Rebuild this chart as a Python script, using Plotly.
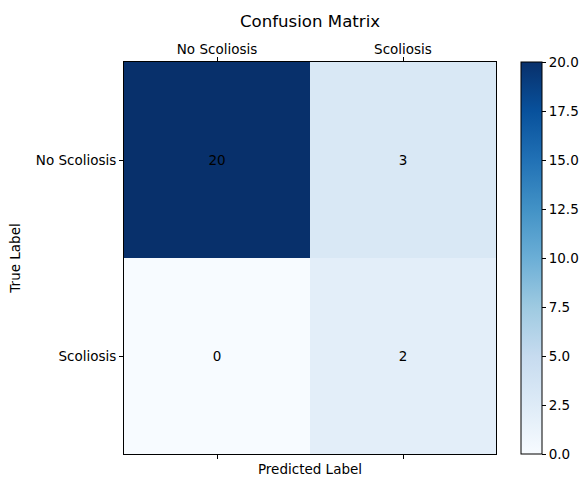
import plotly.graph_objects as go

# Confusion matrix data
class_names = ["No Scoliosis", "Scoliosis"]
counts = [[20, 3],
          [0, 2]]
cbar_ticks = [0.0, 2.5, 5.0, 7.5, 10.0, 12.5, 15.0, 17.5, 20.0]

blues = [
    [0.000, "rgb(247,251,255)"],
    [0.125, "rgb(222,235,247)"],
    [0.250, "rgb(198,219,239)"],
    [0.375, "rgb(158,202,225)"],
    [0.500, "rgb(107,174,214)"],
    [0.625, "rgb(66,146,198)"],
    [0.750, "rgb(33,113,181)"],
    [0.875, "rgb(8,81,156)"],
    [1.000, "rgb(8,48,107)"],
]

FONT = "DejaVu Sans"
FS = 13.5
W, H = 581, 477
L, R, T, B = 124, 496, 62, 454

idx = list(range(len(class_names)))

fig = go.Figure()
fig.add_trace(go.Heatmap(
    z=counts, x=idx, y=idx,
    colorscale=blues, zmin=0, zmax=20,
    text=[[str(v) for v in row] for row in counts],
    texttemplate="%{text}",
    textfont=dict(family=FONT, size=FS, color="black"),
    hoverinfo="skip",
    colorbar=dict(
        x=(521 - L) / (R - L), xanchor="left", xpad=0, ypad=0,
        y=0.5, yanchor="middle", len=1, lenmode="fraction",
        thickness=21, thicknessmode="pixels",
        outlinewidth=1, outlinecolor="black",
        tickvals=cbar_ticks, ticktext=[f"{v:.1f}" for v in cbar_ticks],
        ticks="outside", ticklen=4, tickwidth=1, tickcolor="black",
        tickfont=dict(family=FONT, size=FS, color="black"),
    ),
))
# Invisible trace to anchor the bottom x axis
fig.add_trace(go.Scatter(x=idx, y=idx, xaxis="x2", mode="markers",
                         marker=dict(opacity=0), hoverinfo="skip", showlegend=False))

axis_common = dict(
    showgrid=False, zeroline=False, showline=True, linecolor="black",
    linewidth=1, mirror=True, ticks="outside", ticklen=4, tickwidth=1,
    tickcolor="black", tickfont=dict(family=FONT, size=FS, color="black"),
    automargin=False,
)

fig.update_layout(
    width=W, height=H,
    margin=dict(l=L, r=W - R, t=T, b=H - B, autoexpand=False),
    paper_bgcolor="white", plot_bgcolor="white",
    showlegend=False,
    xaxis=dict(range=[-0.5, 1.5], side="top", tickvals=idx, ticktext=class_names,
               ticklabelstandoff=-2, **axis_common),
    xaxis2=dict(range=[-0.5, 1.5], side="bottom", overlaying="x", anchor="y",
                tickvals=idx, showticklabels=False,
                title=dict(text="Predicted Label", standoff=10,
                           font=dict(family=FONT, size=FS, color="black")),
                **axis_common),
    yaxis=dict(range=[1.5, -0.5], tickvals=idx, ticktext=class_names,
               title=dict(text="True Label", standoff=12,
                          font=dict(family=FONT, size=FS, color="black")),
               **axis_common),
    annotations=[dict(text="Confusion Matrix", xref="paper", yref="paper",
                      x=0.5, y=(B - 21) / (B - T), xanchor="center", yanchor="middle",
                      showarrow=False, font=dict(family=FONT, size=16.6, color="black"))],
)

fig.write_html("out.html")
